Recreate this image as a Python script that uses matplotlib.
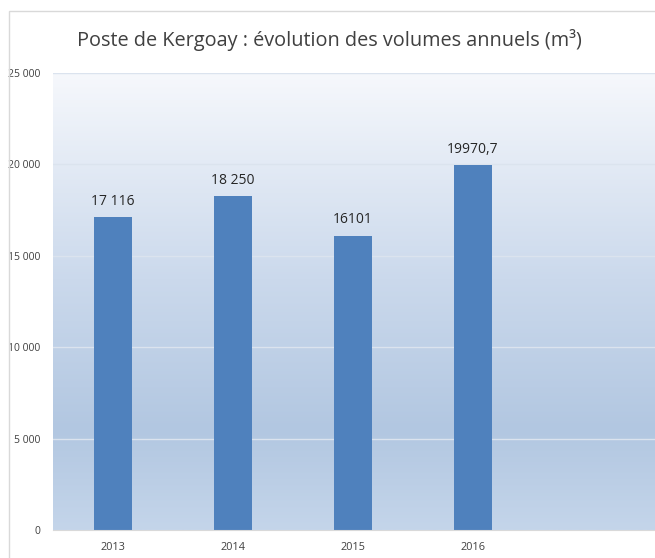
import numpy as np
import matplotlib
matplotlib.use("Agg")
import matplotlib.pyplot as plt
from matplotlib.colors import LinearSegmentedColormap
from matplotlib.patches import Rectangle

years = ["2013", "2014", "2015", "2016"]
volumes = [17116, 18250, 16101, 19970.7]
value_labels = ["17 116", "18 250", "16101", "19970,7"]
y_ticks = [0, 5000, 10000, 15000, 20000, 25000]
y_tick_labels = ["0", "5 000", "10 000", "15 000", "20 000", "25 000"]

plt.rcParams["font.family"] = ["Open Sans", "DejaVu Sans"]

fig = plt.figure(figsize=(6.55, 5.58), dpi=100)
fig.patch.set_facecolor("white")

# chart frame
fig.patches.append(Rectangle((9 / 655, -0.01), 1.0, 1 - 11 / 558 + 0.01,
                             transform=fig.transFigure, fill=False,
                             edgecolor="#d9d9d9", linewidth=1.0))

ax = fig.add_axes([53 / 655, 28 / 558, 1 - 53 / 655, (530 - 73) / 558])

x = np.arange(len(years))
xmax = (655 - 53) / 120 - 0.5
ax.set_xlim(-0.5, xmax)
ax.set_ylim(0, 25000)

# vertical gradient background
grad = LinearSegmentedColormap.from_list(
    "bg", [(0.0, "#c4d5ea"), (0.22, "#b2c7e1"), (0.55, "#cbd9ec"), (1.0, "#f6f8fc")])
ax.imshow(np.linspace(0, 1, 256).reshape(-1, 1), aspect="auto", cmap=grad,
          origin="lower", extent=(-0.5, xmax, 0, 25000), zorder=0)

for t in y_ticks[1:]:
    ax.axhline(t, color="#dbe3ee", linewidth=1.0, zorder=1)

ax.bar(x, volumes, width=0.317, color="#4f81bd", zorder=2)

for xi, v, lab in zip(x, volumes, value_labels):
    ax.annotate(lab, (xi, v), xytext=(0, 6), textcoords="offset points",
                ha="center", va="bottom", fontsize=10, color="#262626")

ax.set_xticks(x)
ax.set_xticklabels(years, fontsize=7.8, color="#404040")
ax.set_yticks(y_ticks)
ax.set_yticklabels(y_tick_labels, fontsize=7.5, color="#404040")
ax.tick_params(axis="both", length=0)
ax.tick_params(axis="y", pad=9)
ax.tick_params(axis="x", pad=9)

for side in ["top", "right", "left"]:
    ax.spines[side].set_visible(False)
ax.spines["bottom"].set_color("#d9d9d9")

fig.text(0.503, 1 - 40 / 558, "Poste de Kergoay : évolution des volumes annuels (m³)",
         ha="center", va="center", fontsize=14.3, color="#404040")

fig.savefig("out.png", dpi=100)
